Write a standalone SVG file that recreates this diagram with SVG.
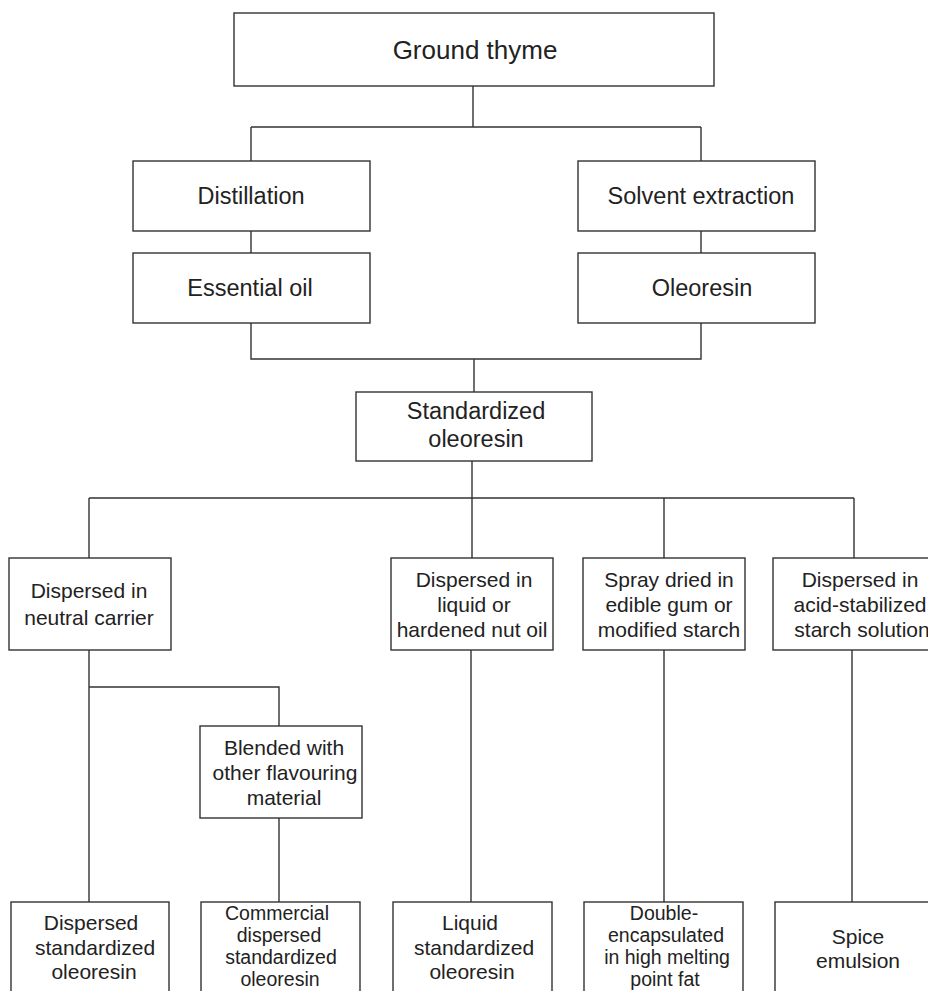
<svg xmlns="http://www.w3.org/2000/svg" width="928" height="991" viewBox="0 0 928 991">
<style>
.box{fill:#fff;stroke:#333;stroke-width:1.4}
.ln{fill:none;stroke:#333;stroke-width:1.4}
text{font-family:"Liberation Sans",Arial,sans-serif;fill:#222;text-anchor:middle}
.t1{font-size:26px}
.t2{font-size:23.5px}
.t3{font-size:21px}
.t4{font-size:19.5px}
</style>
<rect width="928" height="991" fill="#fff"/>
<g id="connectors">
<path class="ln" d="M473 86V127M251 127H701M251 127V161M701 127V161"/>
<path class="ln" d="M251 231V253M701 231V253"/>
<path class="ln" d="M251 323V359H701V323M474 359V392"/>
<path class="ln" d="M472 461V498M89 498H854M89 498V558M472 498V558M664 498V558M854 498V558"/>
<path class="ln" d="M89 650V902M89 687H279V726M279 818V902"/>
<path class="ln" d="M471 650V902M664 650V902M852 650V902"/>
</g>
<g id="n-ground"><rect class="box" x="234" y="13" width="480" height="73"/><text class="t1" x="475" y="59">Ground thyme</text></g>
<g id="n-distillation"><rect class="box" x="133" y="161" width="237" height="70"/><text class="t2" x="251" y="204">Distillation</text></g>
<g id="n-solvent"><rect class="box" x="578" y="161" width="237" height="70"/><text class="t2" x="701" y="204">Solvent extraction</text></g>
<g id="n-essential"><rect class="box" x="133" y="253" width="237" height="70"/><text class="t2" x="250" y="296">Essential oil</text></g>
<g id="n-oleoresin"><rect class="box" x="578" y="253" width="237" height="70"/><text class="t2" x="702" y="296">Oleoresin</text></g>
<g id="n-standardized"><rect class="box" x="356" y="392" width="236" height="69"/><text class="t2" x="476" y="419">Standardized</text><text class="t2" x="476" y="447">oleoresin</text></g>
<g id="n-neutral"><rect class="box" x="9" y="558" width="162" height="92"/><text class="t3" x="89" y="598">Dispersed in</text><text class="t3" x="89" y="625">neutral carrier</text></g>
<g id="n-nutoil"><rect class="box" x="391" y="558" width="162" height="92"/><text class="t3" x="474" y="587">Dispersed in</text><text class="t3" x="474" y="612">liquid or</text><text class="t3" x="472" y="637">hardened nut oil</text></g>
<g id="n-spray"><rect class="box" x="583" y="558" width="162" height="92"/><text class="t3" x="669" y="587">Spray dried in</text><text class="t3" x="669" y="612">edible gum or</text><text class="t3" x="669" y="637">modified starch</text></g>
<g id="n-acid"><rect class="box" x="773" y="558" width="175" height="92"/><text class="t3" x="860" y="587">Dispersed in</text><text class="t3" x="860" y="612">acid-stabilized</text><text class="t3" x="862" y="637">starch solution</text></g>
<g id="n-blended"><rect class="box" x="200" y="726" width="162" height="92"/><text class="t3" x="284" y="755">Blended with</text><text class="t3" x="285" y="780">other flavouring</text><text class="t3" x="284" y="805">material</text></g>
<g id="n-dispstd"><rect class="box" x="11" y="902" width="158" height="100"/><text class="t3" x="91" y="930">Dispersed</text><text class="t3" x="95" y="955">standardized</text><text class="t3" x="94" y="979">oleoresin</text></g>
<g id="n-commercial"><rect class="box" x="201" y="902" width="159" height="100"/><text class="t4" x="277" y="920">Commercial</text><text class="t4" x="279" y="942">dispersed</text><text class="t4" x="281" y="964">standardized</text><text class="t4" x="280" y="986">oleoresin</text></g>
<g id="n-liquid"><rect class="box" x="393" y="902" width="159" height="100"/><text class="t3" x="470" y="930">Liquid</text><text class="t3" x="474" y="955">standardized</text><text class="t3" x="472" y="979">oleoresin</text></g>
<g id="n-double"><rect class="box" x="584" y="902" width="159" height="100"/><text class="t4" x="664" y="920">Double-</text><text class="t4" x="666" y="942">encapsulated</text><text class="t4" x="667" y="964">in high melting</text><text class="t4" x="665" y="986">point fat</text></g>
<g id="n-spice"><rect class="box" x="775" y="902" width="170" height="100"/><text class="t3" x="858" y="944">Spice</text><text class="t3" x="858" y="968">emulsion</text></g>
</svg>
